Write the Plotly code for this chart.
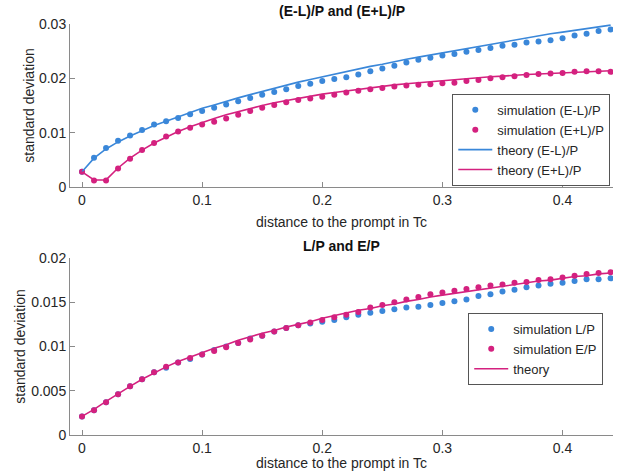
import plotly.graph_objects as go

# ---------------- data ----------------
x_dist = [i / 100 for i in range(45)]  # 0, 0.01, ..., 0.44

sim_EmL = [0.0028, 0.0054, 0.0072, 0.0085, 0.0095, 0.0105, 0.0115, 0.0121, 0.0127, 0.0134,
           0.0140, 0.0146, 0.0152, 0.0158, 0.0164, 0.0170, 0.0175, 0.0180, 0.0186, 0.0190,
           0.0195, 0.0199, 0.0202, 0.0207, 0.0213, 0.0218, 0.0223, 0.0229, 0.0234, 0.0238,
           0.0242, 0.0245, 0.0249, 0.0252, 0.0256, 0.0260, 0.0262, 0.0266, 0.0268, 0.0270,
           0.0274, 0.0279, 0.0282, 0.0287, 0.0290]
sim_EpL = [0.0028, 0.0012, 0.0012, 0.0034, 0.0052, 0.0068, 0.0081, 0.0093, 0.0102, 0.0109,
           0.0115, 0.0120, 0.0126, 0.0133, 0.0140, 0.0146, 0.0151, 0.0156, 0.0160, 0.0163,
           0.0166, 0.0170, 0.0174, 0.0177, 0.0180, 0.0182, 0.0185, 0.0187, 0.0188, 0.0189,
           0.0191, 0.0192, 0.0195, 0.0197, 0.0200, 0.0202, 0.0204, 0.0206, 0.0208, 0.0209,
           0.0210, 0.0212, 0.0213, 0.0213, 0.0212]
th_EmL = [0.0028, 0.0053, 0.0070, 0.0083, 0.0094, 0.0104, 0.0113, 0.0121, 0.0129, 0.0137,
          0.0145, 0.0151, 0.0158, 0.0164, 0.0170, 0.0176, 0.0182, 0.0187, 0.0193, 0.0198,
          0.0203, 0.0208, 0.0213, 0.0217, 0.0222, 0.0226, 0.0231, 0.0235, 0.0239, 0.0243,
          0.0247, 0.0251, 0.0255, 0.0259, 0.0263, 0.0267, 0.0271, 0.0275, 0.0278, 0.0282,
          0.0285, 0.0288, 0.0292, 0.0295, 0.0298]
th_EpL = [0.0028, 0.0013, 0.0013, 0.0035, 0.0053, 0.0068, 0.0081, 0.0092, 0.0102, 0.0111,
          0.0119, 0.0126, 0.0133, 0.0139, 0.0145, 0.0150, 0.0155, 0.0159, 0.0164, 0.0167,
          0.0171, 0.0174, 0.0177, 0.0180, 0.0183, 0.0185, 0.0188, 0.0190, 0.0192, 0.0194,
          0.0196, 0.0198, 0.0200, 0.0201, 0.0203, 0.0204, 0.0206, 0.0207, 0.0208, 0.0209,
          0.0210, 0.0211, 0.0212, 0.0213, 0.0214]

sim_LP = [0.0021, 0.0028, 0.0037, 0.0046, 0.0055, 0.0063, 0.0071, 0.0076, 0.0082, 0.0086,
          0.0091, 0.0096, 0.0100, 0.0104, 0.0109, 0.0112, 0.0117, 0.0121, 0.0124, 0.0126,
          0.0128, 0.0130, 0.0133, 0.0136, 0.0138, 0.0140, 0.0142, 0.0144, 0.0145, 0.0147,
          0.0149, 0.0151, 0.0153, 0.0157, 0.0159, 0.0162, 0.0164, 0.0167, 0.0169, 0.0171,
          0.0172, 0.0174, 0.0176, 0.0176, 0.0177]
sim_EP = [0.0021, 0.0028, 0.0037, 0.0046, 0.0055, 0.0063, 0.0071, 0.0077, 0.0082, 0.0087,
          0.0091, 0.0095, 0.0099, 0.0104, 0.0108, 0.0112, 0.0117, 0.0121, 0.0124, 0.0127,
          0.0130, 0.0133, 0.0136, 0.0139, 0.0144, 0.0147, 0.0150, 0.0153, 0.0156, 0.0159,
          0.0161, 0.0163, 0.0165, 0.0167, 0.0169, 0.0170, 0.0172, 0.0173, 0.0175, 0.0176,
          0.0178, 0.0180, 0.0182, 0.0183, 0.0184]
th_P = [0.0021, 0.0029, 0.0038, 0.0047, 0.0055, 0.0063, 0.0070, 0.0077, 0.0083, 0.0088,
        0.0093, 0.0098, 0.0102, 0.0107, 0.0111, 0.0115, 0.0118, 0.0122, 0.0125, 0.0128,
        0.0132, 0.0135, 0.0138, 0.0141, 0.0143, 0.0146, 0.0148, 0.0151, 0.0153, 0.0156,
        0.0158, 0.0160, 0.0162, 0.0164, 0.0166, 0.0168, 0.0170, 0.0172, 0.0174, 0.0175,
        0.0177, 0.0179, 0.0180, 0.0182, 0.0183]

x_tickvals = [0, 0.1, 0.2, 0.3, 0.4]
x_ticktext = ["0", "0.1", "0.2", "0.3", "0.4"]
y1_tickvals = [0, 0.01, 0.02, 0.03]
y1_ticktext = ["0", "0.01", "0.02", "0.03"]
y2_tickvals = [0, 0.005, 0.01, 0.015, 0.02]
y2_ticktext = ["0", "0.005", "0.01", "0.015", "0.02"]

title_top = "(E-L)/P and (E+L)/P"
title_bottom = "L/P and E/P"
x_label = "distance to the prompt in Tc"
y_label = "standard deviation"

# ---------------- style ----------------
BLUE = "#3a87d9"
PINK = "#d4217f"
FONT = "Liberation Sans, Arial, sans-serif"
TXT = "#262626"
AX = "#8a8a8a"

fig = go.Figure()

# top subplot
fig.add_trace(go.Scatter(x=x_dist, y=sim_EmL, mode="markers", name="simulation (E-L)/P",
                         marker=dict(color=BLUE, size=6), xaxis="x", yaxis="y", legend="legend"))
fig.add_trace(go.Scatter(x=x_dist, y=sim_EpL, mode="markers", name="simulation (E+L)/P",
                         marker=dict(color=PINK, size=6), xaxis="x", yaxis="y", legend="legend"))
fig.add_trace(go.Scatter(x=x_dist, y=th_EmL, mode="lines", name="theory (E-L)/P",
                         line=dict(color=BLUE, width=1.6), xaxis="x", yaxis="y", legend="legend"))
fig.add_trace(go.Scatter(x=x_dist, y=th_EpL, mode="lines", name="theory (E+L)/P",
                         line=dict(color=PINK, width=1.6), xaxis="x", yaxis="y", legend="legend"))

# bottom subplot
fig.add_trace(go.Scatter(x=x_dist, y=sim_LP, mode="markers", name="simulation L/P",
                         marker=dict(color=BLUE, size=6), xaxis="x2", yaxis="y2", legend="legend2"))
fig.add_trace(go.Scatter(x=x_dist, y=sim_EP, mode="markers", name="simulation E/P",
                         marker=dict(color=PINK, size=6), xaxis="x2", yaxis="y2", legend="legend2"))
fig.add_trace(go.Scatter(x=x_dist, y=th_P, mode="lines", name="theory",
                         line=dict(color=PINK, width=1.6), xaxis="x2", yaxis="y2", legend="legend2"))

axis_common = dict(showline=True, linecolor=AX, linewidth=1, ticks="inside", ticklen=5,
                   tickcolor=AX, showgrid=False, zeroline=False, mirror=False, automargin=False,
                   tickfont=dict(size=14, color=TXT, family=FONT))

xr = [-0.01, 0.442]
fig.update_layout(
    width=627, height=471,
    margin=dict(l=70, r=14, t=24, b=36),
    paper_bgcolor="white", plot_bgcolor="white",
    font=dict(family=FONT, size=14, color=TXT),
    xaxis=dict(domain=[0, 1], anchor="y", range=xr, tickvals=x_tickvals, ticktext=x_ticktext,
               title=dict(text=x_label, font=dict(size=14, color=TXT), standoff=10), **axis_common),
    yaxis=dict(domain=[0.6034, 1], anchor="x", range=[0, 0.03], tickvals=y1_tickvals, ticktext=y1_ticktext,
               title=dict(text=y_label, font=dict(size=14, color=TXT), standoff=1), **axis_common),
    xaxis2=dict(domain=[0, 1], anchor="y2", range=xr, tickvals=x_tickvals, ticktext=x_ticktext,
                title=dict(text=x_label, font=dict(size=14, color=TXT), standoff=1), **axis_common),
    yaxis2=dict(domain=[0, 0.4307], anchor="x2", range=[0, 0.02], tickvals=y2_tickvals, ticktext=y2_ticktext,
                title=dict(text=y_label, font=dict(size=14, color=TXT), standoff=2), **axis_common),
    legend=dict(x=0.995, y=0.83, xanchor="right", yanchor="top", bgcolor="white",
                bordercolor="#555555", borderwidth=1, font=dict(size=13, color=TXT, family=FONT),
                tracegroupgap=0, itemwidth=34),
    legend2=dict(x=0.982, y=0.297, xanchor="right", yanchor="top", bgcolor="white",
                 bordercolor="#555555", borderwidth=1, font=dict(size=13, color=TXT, family=FONT),
                 tracegroupgap=0, itemwidth=34),
    showlegend=True,
    annotations=[
        dict(text="<b>" + title_top + "</b>", x=0.5, y=1.0, xref="paper", yref="paper",
             xanchor="center", yanchor="bottom", yshift=3, showarrow=False,
             font=dict(size=14, color="#111111", family=FONT)),
        dict(text="<b>" + title_bottom + "</b>", x=0.5, y=0.4307, xref="paper", yref="paper",
             xanchor="center", yanchor="bottom", yshift=2, showarrow=False,
             font=dict(size=14, color="#111111", family=FONT)),
    ],
)

fig.write_html("out.html", config={"displayModeBar": False},
               post_script="document.body.style.margin='0';document.body.style.overflow='hidden';")
